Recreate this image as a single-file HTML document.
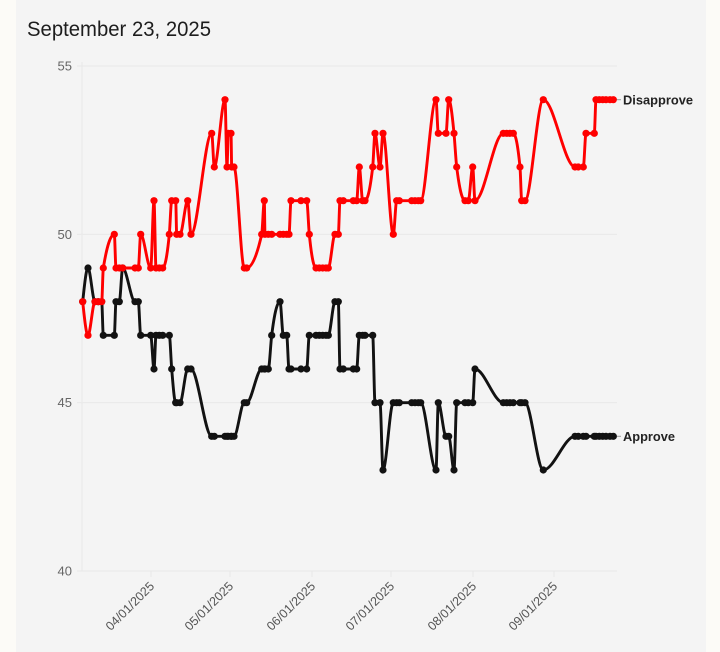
<!DOCTYPE html>
<html><head><meta charset="utf-8"><style>
html,body{margin:0;padding:0;background:#fcfbf7;}
#wrap{position:relative;width:720px;height:652px;overflow:hidden;background:#fcfbf7;}
#panel{position:absolute;left:16px;top:0;width:690px;height:652px;background:#f4f4f4;}
svg{position:absolute;left:0;top:0;}
</style></head><body>
<div id="wrap"><div id="panel"></div>
<svg id="chart" width="720" height="652" viewBox="0 0 720 652" xmlns="http://www.w3.org/2000/svg">
<text x="27" y="36" font-family="Liberation Sans, sans-serif" font-size="21" fill="#1d1d1d" textLength="184" lengthAdjust="spacingAndGlyphs">September 23, 2025</text>
<g stroke="#e9e9e9" stroke-width="1.2">
<line x1="77" y1="66" x2="617" y2="66"/>
<line x1="77" y1="234.3" x2="617" y2="234.3"/>
<line x1="77" y1="402.7" x2="617" y2="402.7"/>
<line x1="77" y1="571" x2="617" y2="571"/>
<line x1="82" y1="62" x2="82" y2="571"/>
<line x1="151" y1="571" x2="151" y2="577"/>
<line x1="230" y1="571" x2="230" y2="577"/>
<line x1="312" y1="571" x2="312" y2="577"/>
<line x1="391" y1="571" x2="391" y2="577"/>
<line x1="473" y1="571" x2="473" y2="577"/>
<line x1="554" y1="571" x2="554" y2="577"/>
</g>
<g font-family="Liberation Sans, sans-serif" font-size="13" fill="#666" text-anchor="end">
<text x="72" y="70.5">55</text>
<text x="72" y="238.8">50</text>
<text x="72" y="407.2">45</text>
<text x="72" y="575.5">40</text>
</g>
<g font-family="Liberation Sans, sans-serif" font-size="12.5" fill="#555" text-anchor="end">
<text transform="translate(155,587) rotate(-45)">04/01/2025</text>
<text transform="translate(234,587) rotate(-45)">05/01/2025</text>
<text transform="translate(316,587) rotate(-45)">06/01/2025</text>
<text transform="translate(395,587) rotate(-45)">07/01/2025</text>
<text transform="translate(477,587) rotate(-45)">08/01/2025</text>
<text transform="translate(558,587) rotate(-45)">09/01/2025</text>
</g>
<g stroke="#999" stroke-width="1">
<line x1="615" y1="99.7" x2="621" y2="99.7"/>
<line x1="615" y1="436.3" x2="621" y2="436.3"/>
</g>
<g font-family="Liberation Sans, sans-serif" font-size="13" font-weight="bold" fill="#222">
<text x="623" y="104.5" textLength="70" lengthAdjust="spacingAndGlyphs">Disapprove</text>
<text x="623" y="441" textLength="52" lengthAdjust="spacingAndGlyphs">Approve</text>
</g>
<g id="series"></g>
</svg>
</div>
<script>
var red=[[82.7,48],[88,47],[95,48],[98.3,48],[101.7,48],[103.3,49],[114.3,50],[116,49],[119.3,49],[122.7,49],[135,49],[138.3,49],[140.7,50],[150.7,49],[154,51],[156,49],[159.3,49],[162.7,49],[169.3,50],[171.7,51],[175.7,51],[176.7,50],[180,50],[187.7,51],[191,50],[211.7,53],[214.3,52],[225,54],[227,52],[228.3,53],[231,53],[231.7,52],[234,52],[244.3,49],[246.7,49],[261.7,50],[264.3,51],[265,50],[268.3,50],[271.7,50],[280,50],[283.3,50],[286.7,50],[289,50],[291,51],[301,51],[306.7,51],[309.3,50],[316,49],[319.3,49],[322.7,49],[326,49],[328.3,49],[335,50],[338.3,50],[340,51],[343.3,51],[353.3,51],[356.7,51],[359.3,52],[362.7,51],[365,51],[372.7,52],[375,53],[380,52],[383,53],[393.3,50],[396.7,51],[399.3,51],[411.7,51],[415,51],[418.3,51],[420.7,51],[436,54],[438.3,53],[446,53],[448.7,54],[454,53],[456.7,52],[465,51],[468.3,51],[472.7,52],[475,51],[503.3,53],[506.7,53],[510,53],[513.3,53],[520,52],[521.7,51],[525,51],[543.3,54],[575,52],[578.3,52],[583.3,52],[586,53],[594.3,53],[596,54],[599.3,54],[602.7,54],[606,54],[610,54],[613.3,54]];
var blk=[[82.7,48],[88,49],[95,48],[98.3,48],[101.7,48],[103.3,47],[114.3,47],[116,48],[119.3,48],[122.7,49],[135,48],[138.3,48],[140.7,47],[150.7,47],[154,46],[156,47],[159.3,47],[162.7,47],[169.3,47],[171.7,46],[175.7,45],[176.7,45],[180,45],[187.7,46],[191,46],[211.7,44],[214.3,44],[225,44],[227,44],[228.3,44],[231,44],[231.7,44],[234,44],[244.3,45],[246.7,45],[261.7,46],[264.3,46],[265,46],[268.3,46],[271.7,47],[280,48],[283.3,47],[286.7,47],[289,46],[291,46],[301,46],[306.7,46],[309.3,47],[316,47],[319.3,47],[322.7,47],[326,47],[328.3,47],[335,48],[338.3,48],[340,46],[343.3,46],[353.3,46],[356.7,46],[359.3,47],[362.7,47],[365,47],[372.7,47],[375,45],[380,45],[383,43],[393.3,45],[396.7,45],[399.3,45],[411.7,45],[415,45],[418.3,45],[420.7,45],[436,43],[438.3,45],[446,44],[448.7,44],[454,43],[456.7,45],[465,45],[468.3,45],[472.7,45],[475,46],[503.3,45],[506.7,45],[510,45],[513.3,45],[520,45],[521.7,45],[525,45],[543.3,43],[575,44],[578.3,44],[583.3,44],[586,44],[594.3,44],[596,44],[599.3,44],[602.7,44],[606,44],[610,44],[613.3,44]];
function Y(v){return 66+(55-v)*33.667;}
function sign(x){return x<0?-1:1;}
function pathFor(d){
  var p=d.map(function(a){return [a[0],Y(a[1])];});
  var n=p.length,t=new Array(n);
  for(var i=1;i<n-1;i++){
    var h0=p[i][0]-p[i-1][0],h1=p[i+1][0]-p[i][0];
    var s0=(p[i][1]-p[i-1][1])/h0,s1=(p[i+1][1]-p[i][1])/h1;
    var pp=(s0*h1+s1*h0)/(h0+h1);
    t[i]=(sign(s0)+sign(s1))*Math.min(Math.abs(s0),Math.abs(s1),0.5*Math.abs(pp))||0;
  }
  var h=p[1][0]-p[0][0];t[0]=(3*(p[1][1]-p[0][1])/h-t[1])/2;
  h=p[n-1][0]-p[n-2][0];t[n-1]=(3*(p[n-1][1]-p[n-2][1])/h-t[n-2])/2;
  var s="M"+p[0][0]+","+p[0][1];
  for(var i=0;i<n-1;i++){
    var dx=(p[i+1][0]-p[i][0])/3;
    s+="C"+(p[i][0]+dx)+","+(p[i][1]+dx*t[i])+","+(p[i+1][0]-dx)+","+(p[i+1][1]-dx*t[i+1])+","+p[i+1][0]+","+p[i+1][1];
  }
  return {d:s,p:p};
}
var ns="http://www.w3.org/2000/svg",g=document.getElementById("series");
function draw(data,col){
  var r=pathFor(data);
  var pa=document.createElementNS(ns,"path");
  pa.setAttribute("d",r.d);pa.setAttribute("fill","none");pa.setAttribute("stroke",col);pa.setAttribute("stroke-width","2.9");pa.setAttribute("stroke-linejoin","round");
  g.appendChild(pa);
  r.p.forEach(function(q){var c=document.createElementNS(ns,"circle");c.setAttribute("cx",q[0]);c.setAttribute("cy",q[1]);c.setAttribute("r","3.6");c.setAttribute("fill",col);g.appendChild(c);});
}
draw(blk,"#121212");
draw(red,"#ff0000");
</script>
</body></html>
